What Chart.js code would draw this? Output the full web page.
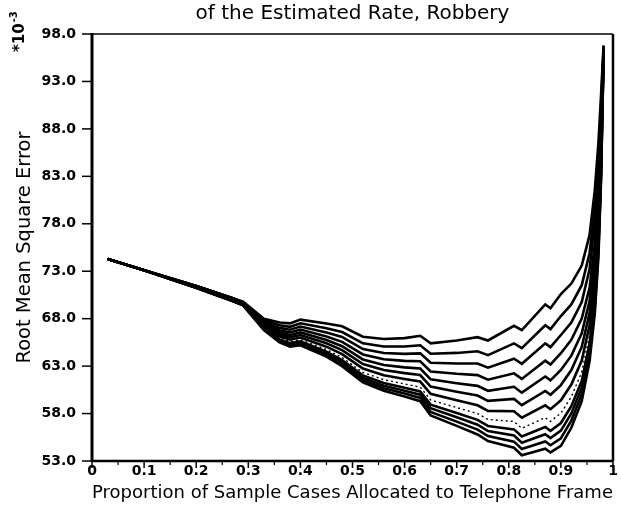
<!DOCTYPE html>
<html>
<head>
<meta charset="utf-8">
<script src="https://cdn.jsdelivr.net/npm/chart.js@4.4.1/dist/chart.umd.min.js"></script>
<style>
  html, body { margin: 0; padding: 0; background: #fff; }
  canvas { display: block; }
</style>
</head>
<body>
<canvas id="rmseChart" width="621" height="510"></canvas>
<script>
// ---------- Data ----------
// proportion of sample cases allocated to the telephone frame
const xs = [0.03, 0.10, 0.20, 0.27, 0.29, 0.33, 0.36, 0.38, 0.40, 0.45, 0.48, 0.52, 0.56, 0.60, 0.63, 0.65,
            0.70, 0.74, 0.76, 0.81, 0.825, 0.87, 0.88, 0.90, 0.92, 0.94, 0.955, 0.965, 0.972, 0.977, 0.982];

// root mean square error (*10^-3), one array per curve, top to bottom
const rmse1  = [74.3, 73.1, 71.45, 70.15, 69.8, 68.0, 67.6, 67.5, 67.9, 67.5, 67.2, 66.1, 65.85, 65.95, 66.2, 65.4,
                65.7, 66.05, 65.7, 67.25, 66.8, 69.5, 69.1, 70.6, 71.7, 73.6, 76.8, 81.5, 86.5, 91.5, 96.8];
const rmse2  = [74.3, 73.1, 71.45, 70.15, 69.74, 67.83, 67.3, 67.14, 67.51, 66.99, 66.59, 65.4, 65.06, 65.06, 65.2, 64.3,
                64.39, 64.56, 64.16, 65.39, 64.89, 67.3, 66.9, 68.28, 69.5, 71.53, 74.9, 79.6, 84.8, 90.2, 96.7];
const rmse3  = [74.3, 73.1, 71.45, 70.15, 69.69, 67.68, 67.03, 66.84, 67.17, 66.55, 66.07, 64.8, 64.38, 64.29, 64.34, 63.35,
                63.27, 63.28, 62.84, 63.78, 63.24, 65.4, 65.0, 66.28, 67.6, 69.74, 73.2, 78.0, 83.3, 89.1, 96.6];
const rmse4  = [74.3, 73.1, 71.45, 70.15, 69.64, 67.53, 66.78, 66.54, 66.85, 66.13, 65.56, 64.23, 63.72, 63.55, 63.51, 62.44,
                62.19, 62.05, 61.57, 62.24, 61.65, 63.57, 63.17, 64.36, 65.77, 68.02, 71.25, 75.82, 81.21, 87.68, 96.5];
const rmse5  = [74.3, 73.1, 71.35, 70.0, 69.6, 67.4, 66.55, 66.27, 66.55, 65.75, 65.1, 63.7, 63.12, 62.87, 62.75, 61.6,
                61.2, 60.92, 60.4, 60.82, 60.2, 61.9, 61.5, 62.6, 64.1, 66.45, 69.85, 74.5, 80.0, 86.75, 96.4];
const rmse6  = [74.3, 73.1, 71.35, 70.0, 69.56, 67.28, 66.34, 66.03, 66.28, 65.4, 64.68, 63.22, 62.58, 62.26, 62.06, 60.84,
                60.3, 59.9, 59.34, 59.54, 58.88, 60.38, 59.98, 61.0, 62.58, 65.02, 68.58, 73.3, 78.9, 85.9, 96.3];
const rmse7  = [74.3, 73.1, 71.35, 70.0, 69.52, 67.16, 66.13, 65.78, 66.01, 65.05, 64.26, 62.74, 62.03, 61.64, 61.37, 60.08,
                59.4, 58.87, 58.28, 58.25, 57.56, 58.86, 58.46, 59.4, 61.06, 63.59, 67.31, 72.1, 77.8, 85.05, 96.25];
const rmse8  = [74.3, 73.1, 71.35, 70.0, 69.49, 67.06, 65.95, 65.58, 65.78, 64.75, 63.9, 62.33, 61.57, 61.12, 60.78, 59.43,
                58.63, 58.0, 57.38, 57.16, 56.44, 57.57, 57.17, 58.04, 59.77, 62.37, 66.23, 71.08, 76.86, 84.33, 96.2];
const rmse9  = [74.3, 73.1, 71.25, 69.85, 69.46, 66.98, 65.81, 65.42, 65.6, 64.52, 63.63, 62.02, 61.22, 60.72, 60.33, 58.94,
                58.05, 57.34, 56.69, 56.33, 55.58, 56.58, 56.18, 57.0, 58.78, 61.44, 65.4, 70.3, 76.15, 83.77, 96.15];
const rmse10 = [74.3, 73.1, 71.25, 69.85, 69.44, 66.92, 65.71, 65.29, 65.47, 64.35, 63.42, 61.78, 60.94, 60.41, 59.99, 58.56,
                57.6, 56.82, 56.16, 55.68, 54.92, 55.82, 55.42, 56.2, 58.02, 60.73, 64.77, 69.7, 75.6, 83.35, 96.1];
const rmse11 = [74.3, 73.1, 71.25, 69.85, 69.42, 66.86, 65.6, 65.17, 65.33, 64.17, 63.21, 61.54, 60.67, 60.11, 59.64, 58.18,
                57.15, 56.31, 55.63, 55.04, 54.26, 55.06, 54.66, 55.4, 57.26, 60.01, 64.13, 69.1, 75.05, 82.92, 96.05];
const rmse12 = [74.3, 73.1, 71.25, 69.85, 69.4, 66.8, 65.5, 65.05, 65.2, 64.0, 63.0, 61.3, 60.4, 59.8, 59.3, 57.8,
                56.7, 55.8, 55.1, 54.4, 53.6, 54.3, 53.9, 54.6, 56.5, 59.3, 63.5, 68.5, 74.5, 82.5, 96.0];

const xTicks = [0, 0.1, 0.2, 0.3, 0.4, 0.5, 0.6, 0.7, 0.8, 0.9, 1];
const xMinorTicks = [0.05, 0.15, 0.25, 0.35, 0.45, 0.55, 0.65, 0.75, 0.85, 0.95];
const yTicks = [53, 58, 63, 68, 73, 78, 83, 88, 93, 98];

const titleText = 'of the Estimated Rate, Robbery';
const xTitle = 'Proportion of Sample Cases Allocated to Telephone Frame';
const yTitle = 'Root Mean Square Error';

const FONT = '"DejaVu Sans", sans-serif';

// ---------- Datasets ----------
const curves = [rmse1, rmse2, rmse3, rmse4, rmse5, rmse6, rmse7, rmse8, rmse9, rmse10, rmse11, rmse12];
const datasets = curves.map((ys, i) => {
  const dotted = (i === 7);
  return {
    label: 'curve ' + (i + 1),
    data: ys.map((y, k) => ({ x: xs[k], y: y })),
    borderColor: '#000',
    borderWidth: dotted ? 1.4 : 2.6,
    borderDash: dotted ? [2, 3] : [],
    pointRadius: 0,
    tension: 0,
    fill: false
  };
});

// ---------- Frame, tick marks and extra labels ----------
const framePlugin = {
  id: 'frame',
  afterDraw(chart) {
    const ctx = chart.ctx;
    const { left, right, top, bottom } = chart.chartArea;
    const sx = chart.scales.x, sy = chart.scales.y;
    ctx.save();
    ctx.strokeStyle = '#000';
    ctx.lineCap = 'butt';

    // box
    ctx.lineWidth = 1.5;
    ctx.beginPath(); ctx.moveTo(left, top); ctx.lineTo(right, top); ctx.stroke();
    ctx.lineWidth = 3;
    ctx.beginPath(); ctx.moveTo(left, top - 1); ctx.lineTo(left, bottom + 1); ctx.stroke();
    ctx.lineWidth = 2.5;
    ctx.beginPath(); ctx.moveTo(left, bottom); ctx.lineTo(right, bottom); ctx.stroke();
    ctx.beginPath(); ctx.moveTo(right, top); ctx.lineTo(right, bottom); ctx.stroke();

    // x ticks (outside, below)
    ctx.lineWidth = 1.5;
    xTicks.forEach(v => {
      const px = sx.getPixelForValue(v);
      ctx.beginPath(); ctx.moveTo(px, bottom); ctx.lineTo(px, bottom + 7); ctx.stroke();
    });
    ctx.lineWidth = 1.2;
    xMinorTicks.forEach(v => {
      const px = sx.getPixelForValue(v);
      ctx.beginPath(); ctx.moveTo(px, bottom); ctx.lineTo(px, bottom + 4); ctx.stroke();
    });
    // y ticks (outside, left)
    ctx.lineWidth = 1.5;
    yTicks.forEach(v => {
      const py = sy.getPixelForValue(v);
      ctx.beginPath(); ctx.moveTo(left - 10, py); ctx.lineTo(left, py); ctx.stroke();
    });

    // title (first line is cut off in the source)
    ctx.fillStyle = '#000';
    ctx.font = '20px ' + FONT;
    ctx.textAlign = 'center';
    ctx.textBaseline = 'alphabetic';
    ctx.fillText(titleText, (left + right) / 2, 19);

    // scale factor label, rotated
    ctx.translate(24, 52);
    ctx.rotate(-Math.PI / 2);
    ctx.textAlign = 'left';
    ctx.font = 'bold 15px ' + FONT;
    ctx.fillText('*10', 0, 0);
    const w = ctx.measureText('*10').width;
    ctx.font = 'bold 10px ' + FONT;
    ctx.fillText('-3', w + 1, -7);
    ctx.restore();
  }
};

// ---------- Chart ----------
new Chart(document.getElementById('rmseChart').getContext('2d'), {
  type: 'line',
  data: { datasets },
  options: {
    responsive: false,
    animation: false,
    devicePixelRatio: 1,
    layout: { padding: { top: 34, right: 8, left: 0, bottom: 0 } },
    plugins: { legend: { display: false }, tooltip: { enabled: false } },
    scales: {
      x: {
        type: 'linear', min: 0, max: 1,
        afterFit(scale) { scale.height = 49; },
        grid: { display: false, drawTicks: false },
        border: { display: false },
        ticks: {
          stepSize: 0.1, padding: 2, color: '#000', maxRotation: 0,
          font: { family: FONT, size: 14, weight: 'bold' },
          callback: v => (v === 0 || v === 1) ? String(v) : v.toFixed(1)
        },
        title: {
          display: true, text: xTitle, color: '#000',
          font: { family: FONT, size: 18.5 },
          padding: { top: 0, bottom: 6 }
        }
      },
      y: {
        min: 53, max: 98,
        afterFit(scale) { scale.width = 92; },
        grid: { display: false, drawTicks: false },
        border: { display: false },
        ticks: {
          stepSize: 5, padding: 16, color: '#000',
          font: { family: FONT, size: 14, weight: 'bold' },
          callback: v => v.toFixed(1)
        },
        title: {
          display: true, text: yTitle, color: '#000',
          font: { family: FONT, size: 19.5 },
          padding: { top: 13, bottom: 0 }
        }
      }
    }
  },
  plugins: [framePlugin]
});
</script>
</body>
</html>
